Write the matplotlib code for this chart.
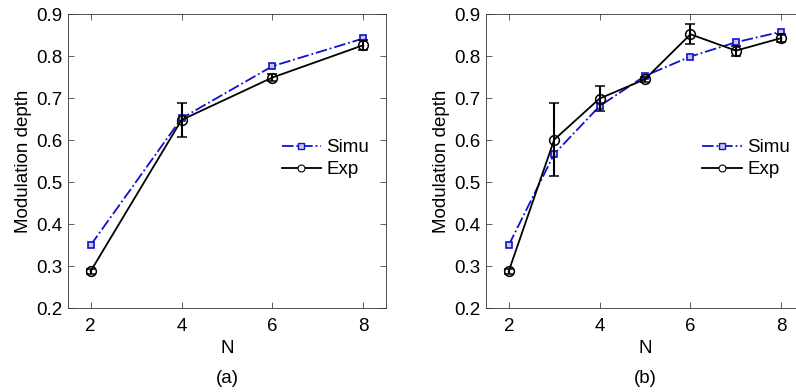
import matplotlib.pyplot as plt
from matplotlib.lines import Line2D

plt.rcParams['font.family'] = ['Liberation Sans', 'DejaVu Sans']

# panel (a): even N only
n_a = [2, 4, 6, 8]
simu_a = [0.350, 0.652, 0.776, 0.842]
exp_a = [0.288, 0.648, 0.749, 0.826]
err_a = [0.006, 0.040, 0.008, 0.012]

# panel (b): every N
n_b = [2, 3, 4, 5, 6, 7, 8]
simu_b = [0.350, 0.567, 0.681, 0.753, 0.799, 0.833, 0.858]
exp_b = [0.288, 0.601, 0.699, 0.745, 0.852, 0.813, 0.843]
err_b = [0.006, 0.087, 0.029, 0.006, 0.024, 0.012, 0.010]

xticks = [2, 4, 6, 8]
yticks = [0.2, 0.3, 0.4, 0.5, 0.6, 0.7, 0.8, 0.9]

BLUE = '#1010d0'
FS = 13.5

fig = plt.figure(figsize=(7.96, 3.92), dpi=100)
ax_a = fig.add_axes([0.0854, 0.214, 0.3995, 0.750])
ax_b = fig.add_axes([0.6106, 0.214, 0.3995, 0.750])


def draw(ax, n, simu, exp, err, tag, leg_x):
    ax.plot(n, simu, color=BLUE, linestyle='-.', linewidth=1.3,
            marker='s', markersize=5, markerfacecolor='#c8c8f0',
            markeredgecolor=BLUE, markeredgewidth=1.2)
    ax.errorbar(n, exp, yerr=err, color='black', linewidth=1.3,
                marker='o', markersize=7, markerfacecolor='none',
                markeredgewidth=1.1, capsize=3.5, elinewidth=1.5)
    ax.set_xlim(1.5, 8.5)
    ax.set_ylim(0.2, 0.9)
    ax.set_xticks(xticks)
    ax.set_yticks(yticks)
    ax.set_yticklabels([f'{v:.1f}' for v in yticks])
    ax.tick_params(direction='in', top=True, right=True, labelsize=FS,
                   length=4, width=0.6, color='#444444', pad=4)
    ax.tick_params(axis='x', pad=7)
    for s in ax.spines.values():
        s.set_linewidth(0.6)
        s.set_color('#333333')
    ax.set_xlabel('N', fontsize=FS, labelpad=4)
    ax.set_ylabel('Modulation depth', fontsize=FS, labelpad=3)
    ax.text(0.5, -0.238, tag, transform=ax.transAxes, ha='center',
            va='center', fontsize=FS)

    handles = [
        Line2D([], [], color=BLUE, linestyle='-.', linewidth=1.3, marker='s',
               markersize=4, markerfacecolor='#c8c8f0', markeredgecolor=BLUE),
        Line2D([], [], color='black', linewidth=1.3, marker='o',
               markersize=5, markerfacecolor='white', markeredgewidth=0.8),
    ]
    ax.legend(handles, ['Simu', 'Exp'], loc='upper left',
              bbox_to_anchor=(leg_x, 0.60), frameon=False, fontsize=FS,
              handlelength=2.1, handletextpad=0.3, labelspacing=0.25,
              borderaxespad=0)


draw(ax_a, n_a, simu_a, exp_a, err_a, '(a)', 0.648)
draw(ax_b, n_b, simu_b, exp_b, err_b, '(b)', 0.657)

fig.savefig('out.png', dpi=100)
